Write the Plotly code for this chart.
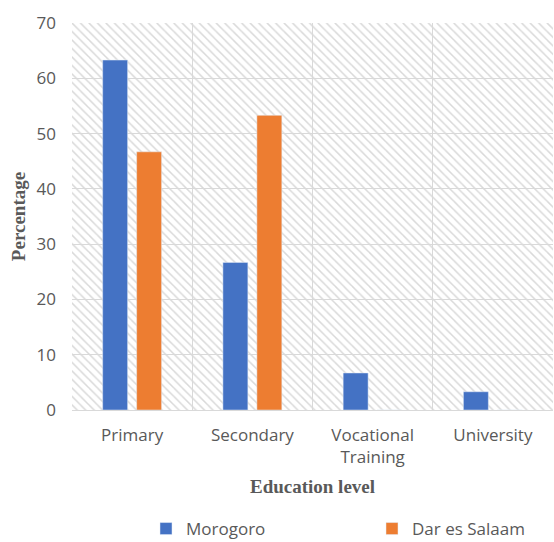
import plotly.graph_objects as go

categories = ["Primary", "Secondary", "Vocational<br>Training", "University"]
morogoro = [63.3, 26.7, 6.7, 3.3]
dar_es_salaam = [46.7, 53.3, 0, 0]
y_ticks = [0, 10, 20, 30, 40, 50, 60, 70]

fig = go.Figure()

# Hatched plot-area background (decorative)
fig.add_trace(go.Bar(
    x=[0.5], y=[max(y_ticks)], width=[1], xaxis="x", yaxis="y",
    marker=dict(color="rgba(0,0,0,0)", line=dict(width=0),
                pattern=dict(shape="\\", fgcolor="#d9d9d9", bgcolor="rgba(0,0,0,0)",
                             size=6, solidity=0.25, fillmode="replace")),
    showlegend=False, hoverinfo="skip"))

fig.add_trace(go.Bar(x=categories, y=morogoro, name="Morogoro",
                     marker_color="#4472C4", xaxis="x2", yaxis="y", legend="legend"))
fig.add_trace(go.Bar(x=categories, y=dar_es_salaam, name="Dar es Salaam",
                     marker_color="#ED7D31", xaxis="x2", yaxis="y", legend="legend2"))

font_main = "'Open Sans', Lato, sans-serif"
serif = "'Liberation Serif', 'Times New Roman', serif"
leg_font = dict(family=font_main, size=17, color="#595959")

fig.update_layout(
    width=554, height=542,
    margin=dict(l=72, r=1, t=23, b=132, autoexpand=False),
    paper_bgcolor="white", plot_bgcolor="white",
    barmode="group", bargap=0.435, bargroupgap=0.265,
    font=dict(family=font_main, size=17, color="#595959"),
    xaxis=dict(range=[0, 1], visible=False, showgrid=False, zeroline=False),
    xaxis2=dict(overlaying="x", anchor="y", side="bottom",
                type="category", tickson="boundaries", showgrid=True,
                gridcolor="#d9d9d9", gridwidth=1, ticks="", showline=False,
                ticklabelstandoff=13,
                tickfont=dict(family=font_main, size=17, color="#595959"),
                title=dict(text="<b>Education level</b>", standoff=12,
                           font=dict(family=serif, size=19, color="#595959"))),
    yaxis=dict(range=[0, 70], tickvals=y_ticks, showgrid=True, gridcolor="#d9d9d9",
               gridwidth=1, zeroline=True, zerolinecolor="#d9d9d9", zerolinewidth=1,
               ticks="", ticklabelstandoff=15,
               tickfont=dict(family=font_main, size=17, color="#595959"),
               title=dict(text="<b>Percentage</b>", standoff=5,
                          font=dict(family=serif, size=19, color="#595959"))),
    legend=dict(orientation="h", x=(146 - 72) / 481, xanchor="left",
                y=(410 - 529) / 387, yanchor="middle",
                font=leg_font, bgcolor="rgba(0,0,0,0)"),
    legend2=dict(orientation="h", x=(372 - 72) / 481, xanchor="left",
                 y=(410 - 529) / 387, yanchor="middle",
                 font=leg_font, bgcolor="rgba(0,0,0,0)"),
)

fig.write_html("out.html")
